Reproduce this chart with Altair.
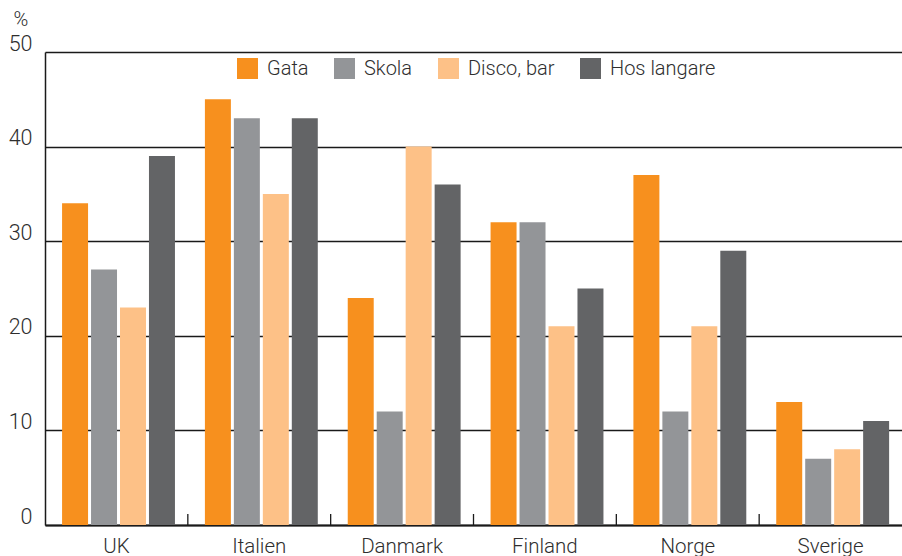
import altair as alt
import pandas as pd

countries = ["UK", "Italien", "Danmark", "Finland", "Norge", "Sverige"]
series = ["Gata", "Skola", "Disco, bar", "Hos langare"]
colors = ["#F7901E", "#939598", "#FDC187", "#636466"]

gata = [34, 45, 24, 32, 37, 13]
skola = [27, 43, 12, 32, 12, 7]
disco = [23, 35, 40, 21, 21, 8]
hos = [39, 43, 36, 25, 29, 11]

values = {"Gata": gata, "Skola": skola, "Disco, bar": disco, "Hos langare": hos}
rows = []
for s in series:
    for c, v in zip(countries, values[s]):
        rows.append({"land": c, "plats": s, "procent": v})
df = pd.DataFrame(rows)
tick_df = pd.DataFrame({"land": countries[1:]})

W, H = 857, 473
FONT = "Roboto"
FW = 300
TXT = "#2e2e2e"

xscale = alt.Scale(domain=countries, paddingInner=0, paddingOuter=0)

bars = alt.Chart(df).mark_bar().encode(
    x=alt.X("land:N", scale=xscale, sort=countries,
            axis=alt.Axis(title=None, labelAngle=0, ticks=False, tickSize=0,
                          labelFontSize=20.5, labelColor=TXT, labelFont=FONT,
                          labelFontWeight=FW,
                          labelBaseline="top", labelPadding=11,
                          domainColor="#1a1a1a", domainWidth=2, grid=False)),
    xOffset=alt.XOffset("plats:N", sort=series,
                        scale=alt.Scale(paddingInner=0.103, paddingOuter=0.517, align=0.57)),
    y=alt.Y("procent:Q", scale=alt.Scale(domain=[0, 50], nice=False),
            axis=alt.Axis(title="%", titleAngle=0, titleX=-32, titleY=-43,
                          titleAlign="left", titleBaseline="top",
                          titleFontSize=20, titleFontWeight=FW,
                          titleColor=TXT, titleFont=FONT,
                          values=[0, 10, 20, 30, 40, 50],
                          ticks=False, tickSize=0, labelPadding=13,
                          labelFontSize=21.5, labelColor=TXT, labelFont=FONT,
                          labelFontWeight=FW,
                          labelBaseline="alphabetic", labelOffset=-2,
                          domainColor="#1a1a1a", domainWidth=1.5,
                          grid=True, gridColor="#1a1a1a", gridWidth=1.3)),
    color=alt.Color("plats:N", sort=series,
                    scale=alt.Scale(domain=series, range=colors),
                    legend=alt.Legend(title=None, orient="none", legendX=192, legendY=6,
                                      direction="horizontal", columns=4,
                                      symbolType="square", symbolSize=441,
                                      symbolStrokeWidth=0, labelFontSize=20,
                                      labelFont=FONT, labelFontWeight=FW, labelColor=TXT,
                                      labelOffset=9, columnPadding=25, padding=0)),
)

ticks = alt.Chart(tick_df).mark_rule(color="#1a1a1a", strokeWidth=1.3).encode(
    x=alt.X("land:N", scale=xscale, sort=countries, bandPosition=0),
    y=alt.value(H),
    y2=alt.value(H - 11),
)

chart = alt.layer(bars, ticks).properties(
    width=W, height=H,
    autosize=alt.AutoSizeParams(type="none"),
    padding={"left": 45, "top": 52, "right": 0, "bottom": 31},
    background="white",
).configure_view(stroke=None)

chart.save("out.html", embed_options={"renderer": "svg", "actions": False})
